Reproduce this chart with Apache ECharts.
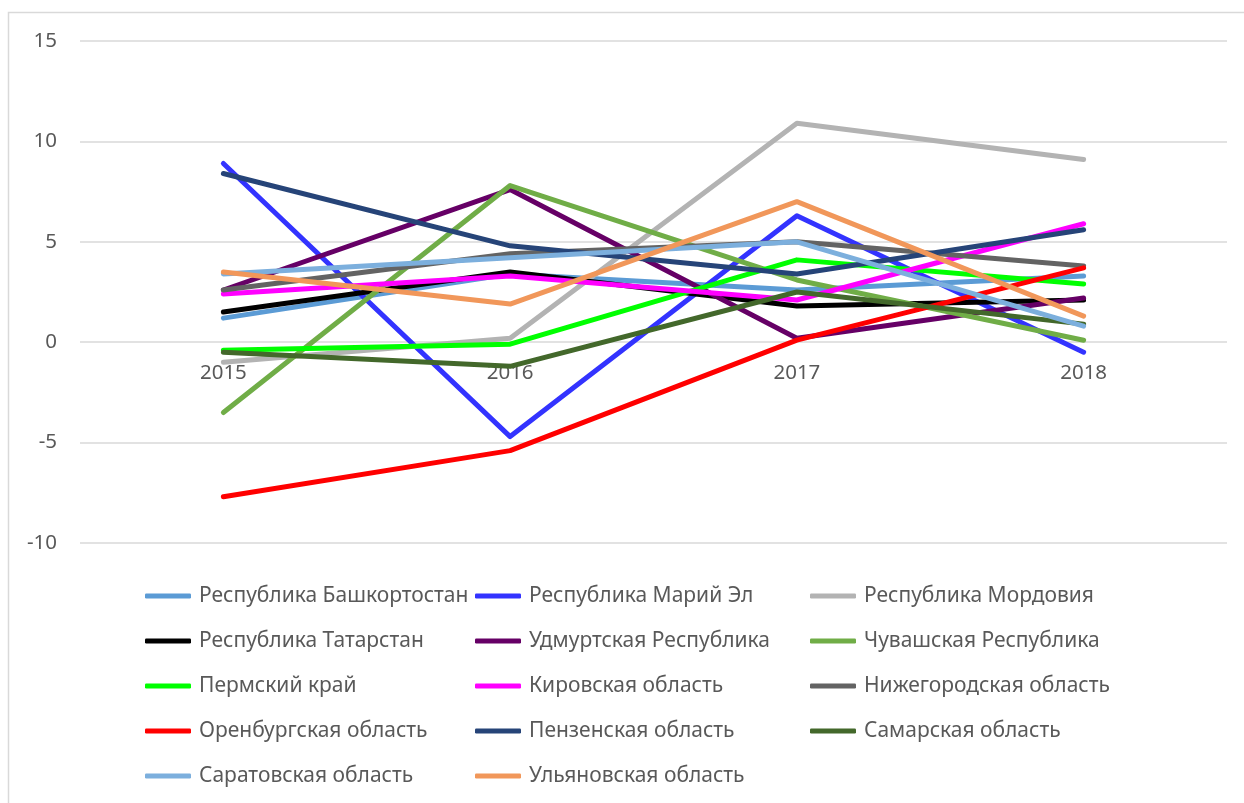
<!DOCTYPE html>
<html>
<head>
<meta charset="utf-8">
<script src="https://cdn.jsdelivr.net/npm/echarts@6/dist/echarts.min.js"></script>
<style>
  html, body {margin: 0; padding: 0; background: #fff;}
  #chart {width: 1244px; height: 803px;}
</style>
</head>
<body>
<div id="chart"></div>
<script>
const years = ['2015', '2016', '2017', '2018']

// значения по регионам
const bashkortostan = [1.2, 3.4, 2.6, 3.3]
const mariyEl = [8.9, -4.7, 6.3, -0.5]
const mordoviya = [-1.0, 0.2, 10.9, 9.1]
const tatarstan = [1.5, 3.5, 1.8, 2.1]
const udmurtiya = [2.6, 7.6, 0.2, 2.2]
const chuvashiya = [-3.5, 7.8, 3.1, 0.1]
const perm = [-0.4, -0.1, 4.1, 2.9]
const kirov = [2.4, 3.3, 2.1, 5.9]
const nizhniy = [2.6, 4.4, 5.0, 3.8]
const orenburg = [-7.7, -5.4, 0.1, 3.7]
const penza = [8.4, 4.8, 3.4, 5.6]
const samara = [-0.5, -1.2, 2.5, 0.9]
const saratov = [3.4, 4.2, 5.0, 0.8]
const ulyanovsk = [3.5, 1.9, 7.0, 1.3]

const seriesDefs = [
  {name: 'Республика Башкортостан', data: bashkortostan, color: '#5B9BD5'},
  {name: 'Республика Марий Эл', data: mariyEl, color: '#3333FF'},
  {name: 'Республика Мордовия', data: mordoviya, color: '#B3B3B3'},
  {name: 'Республика Татарстан', data: tatarstan, color: '#000000'},
  {name: 'Удмуртская Республика', data: udmurtiya, color: '#660066'},
  {name: 'Чувашская Республика', data: chuvashiya, color: '#70AD47'},
  {name: 'Пермский край', data: perm, color: '#00FF00'},
  {name: 'Кировская область', data: kirov, color: '#FF00FF'},
  {name: 'Нижегородская область', data: nizhniy, color: '#636363'},
  {name: 'Оренбургская область', data: orenburg, color: '#FF0000'},
  {name: 'Пензенская область', data: penza, color: '#264478'},
  {name: 'Самарская область', data: samara, color: '#43682B'},
  {name: 'Саратовская область', data: saratov, color: '#7CAFDD'},
  {name: 'Ульяновская область', data: ulyanovsk, color: '#F1975A'},
]

const font = 'Noto Sans'
const legendText = {fontFamily: font, fontSize: 21, color: '#595959', lineHeight: 24, padding: [0, 0, 0, 3]}

function legendColumn(left, names) {
  return {
    orient: 'vertical',
    left: left,
    top: 579,
    icon: 'roundRect',
    itemWidth: 46,
    itemHeight: 5,
    itemGap: 21,
    textStyle: legendText,
    data: names,
  }
}

const names = seriesDefs.map(s => s.name)

let myChart = echarts.init(document.getElementById('chart'))
myChart.setOption({
  animation: false,
  backgroundColor: '#fff',
  graphic: [{
    type: 'rect',
    shape: {x: 8.5, y: 12.5, width: 1300, height: 900},
    style: {fill: 'none', stroke: '#D9D9D9', lineWidth: 1.5},
    silent: true,
  }],
  grid: {left: 80, right: 17, top: 41, bottom: 260},
  legend: [
    legendColumn(140, names.filter((n, i) => i % 3 === 0)),
    legendColumn(470, names.filter((n, i) => i % 3 === 1)),
    legendColumn(805, names.filter((n, i) => i % 3 === 2)),
  ],
  xAxis: {
    type: 'category',
    data: years,
    boundaryGap: true,
    offset: -201,  // ось категорий проходит через ноль
    axisLine: {show: false},
    axisTick: {show: false},
    axisLabel: {fontFamily: font, fontSize: 20.5, color: '#595959', margin: 21},
  },
  yAxis: {
    type: 'value',
    min: -10,
    max: 15,
    interval: 5,
    axisLine: {show: false},
    axisTick: {show: false},
    axisLabel: {fontFamily: font, fontSize: 20.5, color: '#595959', margin: 23},
    splitLine: {lineStyle: {color: '#D9D9D9', width: 1.5}},
  },
  series: seriesDefs.map(s => ({
    name: s.name,
    type: 'line',
    data: s.data,
    symbol: 'none',
    itemStyle: {color: s.color},
    lineStyle: {color: s.color, width: 5, cap: 'round', join: 'round'},
  })),
})
</script>
</body>
</html>
